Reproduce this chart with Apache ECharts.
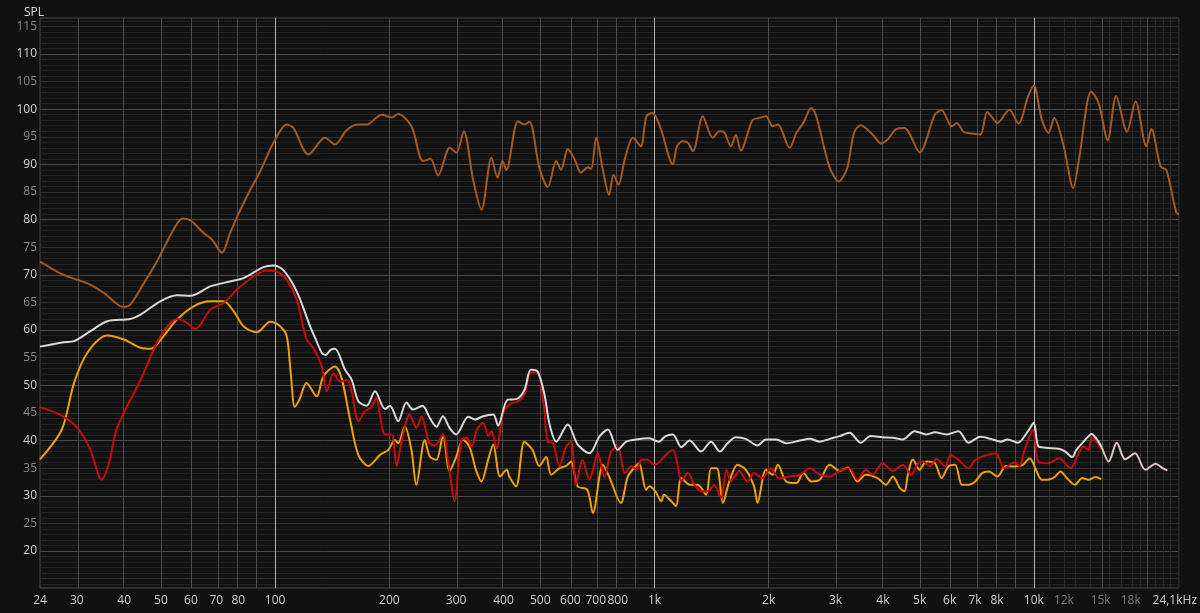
<!DOCTYPE html>
<html><head><meta charset="utf-8">
<script src="https://cdn.jsdelivr.net/npm/echarts@6/dist/echarts.min.js"></script>
<style>html,body{margin:0;padding:0;background:#111111;}#c{width:1200px;height:613px;}</style>
</head><body><div id="c"></div>
<script>
// ---- data (frequency in Hz, SPL in dB) ----
const brownFreq = [24,26,27.7,30.1,32.6,35.4,38,39.7,41.5,45.1,48.8,54,57,60,64.7,68.1,72.4,76.1,80,86,91.3,99,107.3,111.7,122.4,135.4,143.8,154.4,165.7,174.3,190.8,202.8,211,228.7,245.6,256.7,268.9,288.8,300.5,314.2,332.6,349.9,371.9,385.7,397.5,406.8,436.7,454.1,468,497.8,523.4,550.8,567,591,616,640,667,681,702,731,759,780,804,835,878,920,952,987,1034,1118,1146,1188,1225,1263,1341,1424,1482,1527,1590,1638,1689,1812,1888,1967,2049,2114,2272,2367,2467,2591,2670,2896,3062,3223,3357,3497,3793,3952,4117,4334,4558,4998,5483,5712,6077,6266,6527,6872,7233,7538,8021,8615,9107,9653,9996,10494,10934,11317,11985,12695,13174,14170,14819,15655,16484,17603,18545,19798,20407,21592,22346,23736,24100];
const brownSpl  = [72.4,71.0,70.0,69.1,68.2,66.7,64.9,64.2,64.6,68.5,72.4,78.2,80.2,79.8,77.6,76.4,74.0,77.6,81.0,85.4,88.7,93.9,97.2,96.6,91.8,94.8,93.6,96.2,97.2,97.2,99.0,98.5,99.1,96.9,90.6,91.0,88.0,93.0,92.1,96.0,87.2,81.8,91.2,87.6,90.6,89.0,97.8,97.2,97.7,89.3,85.9,90.6,89.0,92.8,90.9,88.5,89.5,89.2,94.8,89.0,84.5,88.1,86.3,90.9,94.8,93.3,98.7,99.3,96.9,90.0,93.3,94.2,93.9,92.4,98.7,94.8,96.0,95.8,93.3,95.3,92.5,98.0,98.4,98.7,96.9,97.2,93.0,95.7,97.5,100.2,98.7,89.4,86.9,89.4,95.7,97.1,95.1,93.8,94.5,96.4,96.6,92.2,99.0,99.8,96.9,97.5,95.9,95.6,95.4,99.5,97.5,99.9,97.4,102.3,104.3,98.1,95.7,98.4,93.3,85.7,91.2,103.2,101.1,94.4,102.4,95.9,101.4,93.3,96.4,89.6,89.0,81.3,81.0];

const whiteFreq = [24,27.7,29.5,32.6,36.1,41.5,44.2,49.8,55.1,59.8,67.5,76.1,82.5,93.2,99,105,114,123.6,128,132.7,136,140,143.8,152.9,159.2,165.7,174.3,183.3,194.9,200.8,211,221.9,230.9,244.6,255.7,266.1,277,288.3,300,323,336,353.5,375.8,387,410,432,454,472,492,513,529,550.8,591,627,674,717,754,800,842,894,969,1026,1070,1118,1177,1238,1327,1410,1488,1558,1638,1741,1869,1967,2094,2224,2418,2566,2726,2896,3077,3268,3497,3715,3991,4250,4515,4851,5212,5483,5893,6327,6725,7233,7697,8187,8530,9072,9653,9996,10265,10712,11638,12105,12628,12949,13527,14214,14662,15126];
const whiteSpl  = [57.0,57.8,58.0,59.8,61.6,62.0,62.8,65.2,66.3,66.2,67.9,68.8,69.4,71.4,71.7,70.9,67.0,60.7,58.3,55.9,55.5,56.4,56.6,52.8,51.0,47.1,46.3,48.9,45.7,46.3,43.5,46.9,45.6,46.3,44.1,42.5,44.4,42.3,41.1,44.3,43.8,44.4,44.7,42.7,47.4,47.5,49.1,52.8,52.5,48.3,42.9,39.8,42.9,39.3,37.7,40.8,42.0,38.3,39.8,40.2,40.4,39.8,40.8,41.1,38.8,40.0,38.0,39.8,38.0,39.5,40.6,40.3,39.1,40.2,40.2,39.5,40.0,40.3,39.8,40.3,40.8,41.4,39.6,40.8,40.6,40.5,40.2,41.7,41.1,41.5,41.1,41.7,39.6,40.7,40.3,39.8,40.2,39.6,41.7,43.2,39.0,38.7,38.5,38.0,37.0,38.3,39.8,41.2,40.2,38.7];

const pinkFreq = [15126,15750,16550,17400,18480,19680,20950,21840,22490];
const pinkSpl  = [38.7,36.2,39.6,36.6,37.7,34.7,35.8,35.0,34.6];

const redFreq = [24,27.1,30.1,32.5,34.9,36.5,38.3,44.2,48.8,52.9,55.7,58.5,61.6,67.5,73.1,79.2,87.7,95.1,101,107.3,114,121,126,132.7,136.8,142.5,148.3,154.4,159.2,165.7,172.6,179.7,184.4,194.9,202.8,209,215.3,226.3,235.6,243.2,254.6,263.5,277,285.8,297,309.5,319.8,329.3,340.4,353.5,364.6,372,383.5,398.8,414,436.7,454,472,492,510,523,539,562,585,603,621,646,674,709,738,768,800,835,870,897,924,960,998,1034,1070,1118,1152,1177,1225,1275,1327,1381,1438,1497,1549,1590,1672,1758,1830,1925,2024,2128,2272,2418,2566,2726,2896,3077,3268,3427,3607,3752,3991,4250,4515,4752,4953,5101,5318,5539,5836,6030,6327,6725,7009,7538,7938,8354,8885,9163,9452,9958,10265,10934,11638,12494,12949,13527,13950,14214,14819,15050];
const redSpl  = [46.0,44.7,42.3,38.5,32.9,36.0,42.3,51.0,57.7,61.3,62.0,61.3,60.2,63.7,64.9,67.3,69.7,70.8,70.6,69.1,65.5,58.3,56.8,53.4,48.9,52.2,50.7,51.0,48.9,43.5,45.3,46.1,47.7,41.1,41.1,35.4,39.8,44.7,42.3,44.4,39.6,39.1,41.1,36.2,29.0,40.0,40.5,38.9,42.0,43.2,40.8,41.7,38.6,45.0,46.5,47.1,48.3,52.3,52.3,46.8,39.8,39.6,35.4,38.9,39.8,32.0,36.5,32.9,37.7,33.3,38.0,38.9,34.1,35.4,34.7,36.5,36.5,35.6,36.2,37.4,38.3,35.4,32.6,34.1,32.0,30.8,30.8,32.0,29.6,34.7,32.6,34.5,32.6,34.1,33.2,35.0,33.2,33.5,33.8,35.0,33.8,33.5,34.5,35.0,32.9,34.7,33.8,35.9,34.5,35.6,33.8,35.9,36.2,35.3,36.7,35.3,37.4,36.5,35.0,36.5,37.4,37.7,35.0,36.0,35.4,38.3,41.9,36.2,35.9,36.8,35.0,36.8,38.9,38.3,40.6,39.3,38.3];

const orangeFreq = [24,27.4,29.5,32,36.1,39.9,44.2,47,50.8,55.1,61,67.5,73.1,77.8,82.5,89.5,97,103,107.3,110,112.7,116,121,128.7,134,143.8,149.7,157.6,165.7,176,189,198.7,207,211,219.7,228.7,235.6,248,255.7,266.1,277,288.3,300,312.7,325.9,339,349.9,364.3,375.8,391.7,408,414,432,454,477,497,518,534,562,585,603,627,665,688,731,759,815,851,894,911,950,969,1005,1043,1059,1118,1140,1177,1238,1300,1368,1410,1460,1515,1575,1655,1741,1830,1869,1967,2049,2114,2224,2367,2467,2591,2726,2896,3077,3236,3427,3607,3871,4074,4250,4435,4558,4654,4752,4801,4998,5212,5483,5712,5954,6202,6461,6725,7009,7306,7615,8021,8443,8885,9358,9750,10163,10494,11043,11387,11756,12216,12823,13421,13950,14520,15050];
const orangeSpl  = [36.6,42.0,50.4,55.9,59.0,58.3,56.8,56.6,58.9,61.9,64.3,65.2,65.2,63.4,60.7,59.6,61.5,60.7,58.9,52.0,46.1,47.5,50.4,48.0,51.6,53.4,51.3,43.8,37.4,35.4,37.4,38.3,40.1,39.5,42.6,38.3,32.0,40.1,37.1,36.5,40.8,34.5,37.0,40.2,38.7,34.5,32.6,36.5,39.3,33.5,34.7,33.5,31.7,39.8,38.3,35.4,37.0,33.8,35.0,35.4,36.2,31.7,31.1,26.9,35.6,33.5,28.7,33.5,35.4,35.9,31.1,31.7,30.8,29.0,30.2,28.7,28.1,33.2,32.0,32.0,30.2,35.0,35.0,28.7,32.6,35.6,34.7,31.7,28.7,34.7,33.8,35.6,32.6,32.3,34.1,32.6,32.9,35.6,34.5,35.1,32.6,33.8,33.2,32.0,33.5,31.4,30.8,33.8,36.2,36.5,34.7,36.2,35.9,33.2,35.3,35.6,32.0,32.0,32.6,34.1,34.4,33.5,35.4,35.3,35.6,36.8,34.5,32.9,33.0,33.5,34.4,33.2,32.0,33.2,32.9,33.4,33.0];

// ---- axis ticks ----
const xLabelFreqs = [24,30,40,50,60,70,80,100,200,300,400,500,600,700,800,1000,2000,3000,4000,5000,6000,7000,8000,10000,12000,15000,18000,24100];
const xLabelTexts = ['24','30','40','50','60','70','80','100','200','300','400','500','600','700','800','1k','2k','3k','4k','5k','6k','7k','8k','10k','12k','15k','18k','24,1kHz'];
const xLabelDim   = ['12k','15k','18k'];
const xDecadeLines = [100,1000,10000];
const xMajorLines = [30,40,50,60,70,80,90,200,300,400,500,600,700,800,900,2000,3000,4000,5000,6000,7000,8000,9000,15000,20000];
const xMinorLines = [11000,12000,13000,14000,16000,17000,18000,19000,21000,22000,23000,24000];
const yLabels = [20,25,30,35,40,45,50,55,60,65,70,75,80,85,90,95,100,105,110,115];
const yMin = 13.3, yMax = 116.5;

const L = Math.log10;
const pairs = (f, s) => f.map((v, i) => [L(v), s[i]]);

const gridLines = [];
for (let d = 14; d <= 116; d++) {
  let c = '#232323';
  if (d % 10 === 0) c = '#4a4a4a'; else if (d % 5 === 0) c = '#2d2d2d';
  gridLines.push({yAxis: d, lineStyle: {color: c, width: 1, type: 'solid'}});
}
xMinorLines.forEach(f => gridLines.push({xAxis: L(f), lineStyle: {color: '#2a2a2a', width: 1, type: 'solid'}}));
xMajorLines.forEach(f => gridLines.push({xAxis: L(f), lineStyle: {color: '#4a4a4a', width: 1, type: 'solid'}}));
xDecadeLines.forEach(f => gridLines.push({xAxis: L(f), lineStyle: {color: '#b4b4b4', width: 1, type: 'solid'}}));

function mk(name, data, color, z) {
  return {name, type: 'line', data, smooth: 0.3, showSymbol: false, symbol: 'none',
    lineStyle: {color, width: 2}, z, silent: true};
}

const chart = echarts.init(document.getElementById('c'), null, {renderer: 'canvas'});
chart.setOption({
  animation: false,
  backgroundColor: '#111111',
  title: {text: 'SPL', left: 19, top: 2, textStyle: {color: '#dcdcdc', fontSize: 12, fontWeight: 'normal', fontFamily: 'Open Sans'}},
  grid: {left: 40, right: 20, top: 18, bottom: 25, show: true, borderColor: '#4a4a4a', borderWidth: 1, backgroundColor: '#121212'},
  xAxis: {
    type: 'value', min: L(24), max: L(24100),
    axisLine: {show: false}, axisTick: {show: false}, splitLine: {show: false},
    axisLabel: {
      customValues: xLabelFreqs.map(L), margin: 7,
      fontFamily: 'Open Sans', fontSize: 12, color: '#cfcfcf',
      formatter: v => {
        let i = xLabelFreqs.findIndex(f => Math.abs(L(f) - v) < 1e-6);
        if (i < 0) return '';
        const t = xLabelTexts[i];
        if (xLabelDim.includes(t)) return '{d|' + t + '}';
        if (i === xLabelTexts.length - 1) return '{e|' + t + '}';
        return t;
      },
      rich: {
        d: {color: '#7a7a7a', fontFamily: 'Open Sans', fontSize: 12},
        e: {color: '#cfcfcf', fontFamily: 'Open Sans', fontSize: 12, padding: [0, 8, 0, 0]}
      }
    }
  },
  yAxis: {
    type: 'value', min: yMin, max: yMax,
    axisLine: {show: false}, axisTick: {show: false}, splitLine: {show: false},
    axisLabel: {
      customValues: yLabels, margin: 3,
      fontFamily: 'Open Sans', fontSize: 12, color: '#cfcfcf',
      formatter: v => (Math.round(v) % 10 === 0 ? '{b|' + Math.round(v) + '}' : '{d|' + Math.round(v) + '}'),
      rich: {
        b: {color: '#d2d2d2', fontFamily: 'Open Sans', fontSize: 12},
        d: {color: '#8a8a8a', fontFamily: 'Open Sans', fontSize: 12}
      }
    }
  },
  series: [
    {type: 'line', data: [], z: 1, silent: true,
     markLine: {z: 1, silent: true, symbol: ['none', 'none'], label: {show: false}, animation: false, data: gridLines}},
    mk('brown', pairs(brownFreq, brownSpl), '#a5591f', 10),
    mk('orange', pairs(orangeFreq, orangeSpl), '#f0a000', 11),
    mk('red', pairs(redFreq, redSpl), '#cc0a0a', 12),
    mk('white', pairs(whiteFreq, whiteSpl), '#d9d9d9', 13),
    mk('pink', pairs(pinkFreq, pinkSpl), '#e2c6c6', 13)
  ]
});
</script></body></html>
